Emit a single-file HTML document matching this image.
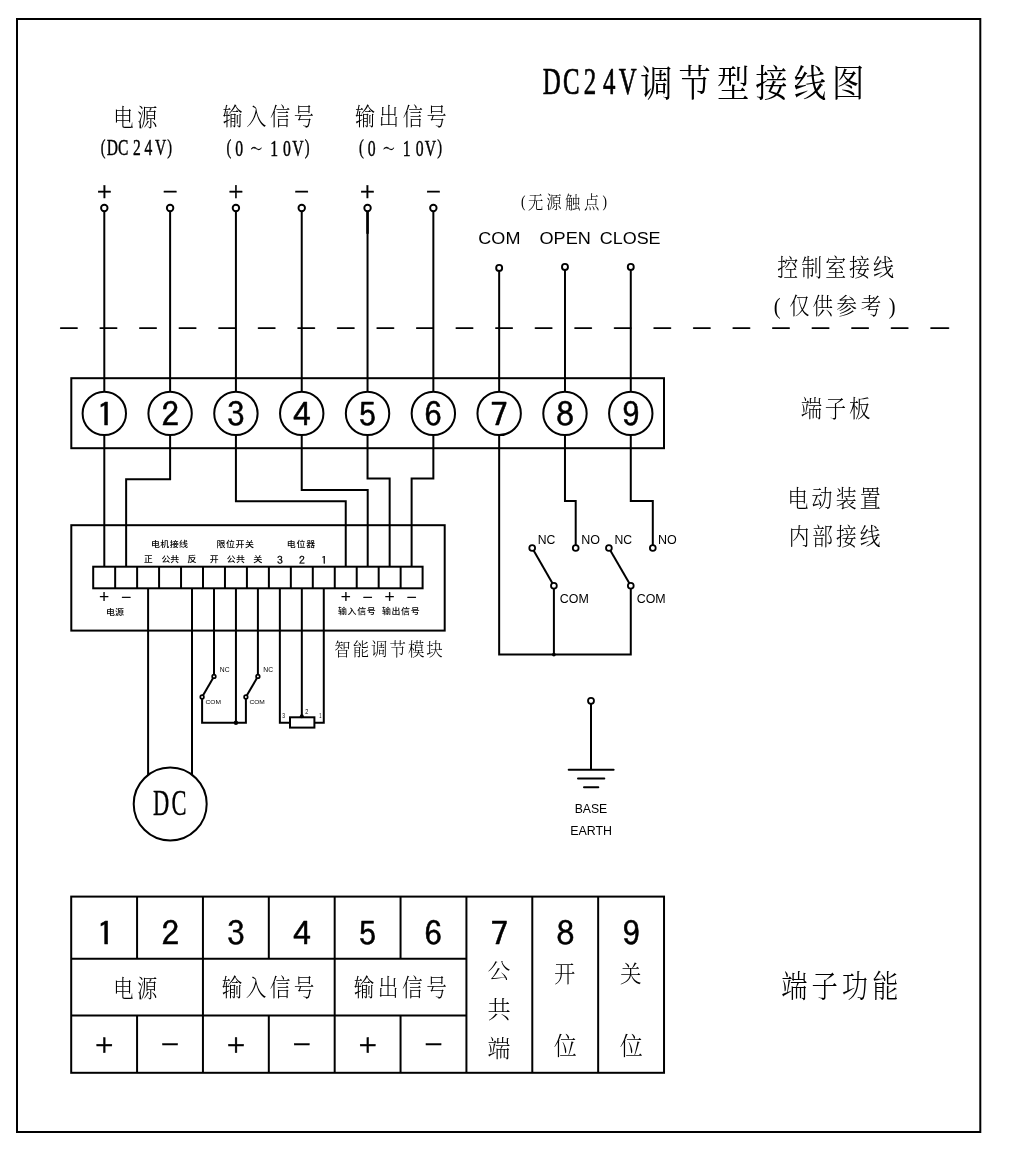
<!DOCTYPE html>
<html lang="zh-CN"><head><meta charset="utf-8"><title>DC24V调节型接线图</title>
<style>
html,body{margin:0;padding:0;background:#fff;}
body{width:1012px;height:1164px;overflow:hidden;font-family:"Liberation Sans","Noto Sans CJK SC",sans-serif;}
svg{display:block;will-change:transform;}
text{white-space:pre;fill:#000;}
.serif{font-family:"Liberation Serif","Noto Serif CJK SC",serif;}.cserif{font-family:"Liberation Serif","Noto Serif CJK SC",serif;}.sans{font-family:"Liberation Sans","Noto Sans CJK SC",sans-serif;}.csans{font-family:"Liberation Sans","Noto Sans CJK SC",sans-serif;}.goth{font-family:"IPAGothic","Noto Sans CJK JP",sans-serif;}
</style></head><body>
<svg width="1012" height="1164" viewBox="0 0 1012 1164">
<rect x="0" y="0" width="1012" height="1164" fill="#fff"/>
<rect x="17" y="19" width="963.3" height="1113" fill="none" stroke="#000" stroke-width="2"/>
<path d="M60.8 328.1 L929 328.1" fill="none" stroke="#000" stroke-width="1.9" stroke-linecap="round" stroke-linejoin="miter" stroke-dasharray="16.2 23.36"/>
<path d="M931.1 328.1 L948.4 328.1" fill="none" stroke="#000" stroke-width="1.9" stroke-linecap="round" stroke-linejoin="miter"/>
<rect x="71.3" y="378.2" width="592.7" height="70" fill="none" stroke="#000" stroke-width="2"/>
<path d="M367.54 210 L367.54 233.8" fill="none" stroke="#000" stroke-width="2.5" stroke-linecap="butt" stroke-linejoin="miter"/>
<path d="M104.3 208 L104.3 391.7" fill="none" stroke="#000" stroke-width="2" stroke-linecap="butt" stroke-linejoin="miter"/>
<circle cx="104.3" cy="208" r="3.25" fill="#fff" stroke="#000" stroke-width="1.9"/>
<path d="M170.11 208 L170.11 391.7" fill="none" stroke="#000" stroke-width="2" stroke-linecap="butt" stroke-linejoin="miter"/>
<circle cx="170.11" cy="208" r="3.25" fill="#fff" stroke="#000" stroke-width="1.9"/>
<path d="M235.92 208 L235.92 391.7" fill="none" stroke="#000" stroke-width="2" stroke-linecap="butt" stroke-linejoin="miter"/>
<circle cx="235.92" cy="208" r="3.25" fill="#fff" stroke="#000" stroke-width="1.9"/>
<path d="M301.73 208 L301.73 391.7" fill="none" stroke="#000" stroke-width="2" stroke-linecap="butt" stroke-linejoin="miter"/>
<circle cx="301.73" cy="208" r="3.25" fill="#fff" stroke="#000" stroke-width="1.9"/>
<path d="M367.54 208 L367.54 391.7" fill="none" stroke="#000" stroke-width="2" stroke-linecap="butt" stroke-linejoin="miter"/>
<circle cx="367.54" cy="208" r="3.25" fill="#fff" stroke="#000" stroke-width="1.9"/>
<path d="M433.35 208 L433.35 391.7" fill="none" stroke="#000" stroke-width="2" stroke-linecap="butt" stroke-linejoin="miter"/>
<circle cx="433.35" cy="208" r="3.25" fill="#fff" stroke="#000" stroke-width="1.9"/>
<path d="M499.16 267.9 L499.16 391.7" fill="none" stroke="#000" stroke-width="2" stroke-linecap="butt" stroke-linejoin="miter"/>
<circle cx="499.16" cy="267.9" r="3" fill="#fff" stroke="#000" stroke-width="1.9"/>
<path d="M564.97 266.9 L564.97 391.7" fill="none" stroke="#000" stroke-width="2" stroke-linecap="butt" stroke-linejoin="miter"/>
<circle cx="564.97" cy="266.9" r="3" fill="#fff" stroke="#000" stroke-width="1.9"/>
<path d="M630.78 266.9 L630.78 391.7" fill="none" stroke="#000" stroke-width="2" stroke-linecap="butt" stroke-linejoin="miter"/>
<circle cx="630.78" cy="266.9" r="3" fill="#fff" stroke="#000" stroke-width="1.9"/>
<circle cx="104.3" cy="413.4" r="21.7" fill="none" stroke="#000" stroke-width="2"/>
<circle cx="170.11" cy="413.4" r="21.7" fill="none" stroke="#000" stroke-width="2"/>
<circle cx="235.92" cy="413.4" r="21.7" fill="none" stroke="#000" stroke-width="2"/>
<circle cx="301.73" cy="413.4" r="21.7" fill="none" stroke="#000" stroke-width="2"/>
<circle cx="367.54" cy="413.4" r="21.7" fill="none" stroke="#000" stroke-width="2"/>
<circle cx="433.35" cy="413.4" r="21.7" fill="none" stroke="#000" stroke-width="2"/>
<circle cx="499.16" cy="413.4" r="21.7" fill="none" stroke="#000" stroke-width="2"/>
<circle cx="564.97" cy="413.4" r="21.7" fill="none" stroke="#000" stroke-width="2"/>
<circle cx="630.78" cy="413.4" r="21.7" fill="none" stroke="#000" stroke-width="2"/>
<rect x="71.3" y="525.2" width="373.4" height="105.4" fill="none" stroke="#000" stroke-width="2"/>
<rect x="93.2" y="566.7" width="329.4" height="21.6" fill="none" stroke="#000" stroke-width="2"/>
<path d="M115.16 566.7 L115.16 588.3" fill="none" stroke="#000" stroke-width="2" stroke-linecap="butt" stroke-linejoin="miter"/>
<path d="M137.12 566.7 L137.12 588.3" fill="none" stroke="#000" stroke-width="2" stroke-linecap="butt" stroke-linejoin="miter"/>
<path d="M159.08 566.7 L159.08 588.3" fill="none" stroke="#000" stroke-width="2" stroke-linecap="butt" stroke-linejoin="miter"/>
<path d="M181.04 566.7 L181.04 588.3" fill="none" stroke="#000" stroke-width="2" stroke-linecap="butt" stroke-linejoin="miter"/>
<path d="M203 566.7 L203 588.3" fill="none" stroke="#000" stroke-width="2" stroke-linecap="butt" stroke-linejoin="miter"/>
<path d="M224.96 566.7 L224.96 588.3" fill="none" stroke="#000" stroke-width="2" stroke-linecap="butt" stroke-linejoin="miter"/>
<path d="M246.92 566.7 L246.92 588.3" fill="none" stroke="#000" stroke-width="2" stroke-linecap="butt" stroke-linejoin="miter"/>
<path d="M268.88 566.7 L268.88 588.3" fill="none" stroke="#000" stroke-width="2" stroke-linecap="butt" stroke-linejoin="miter"/>
<path d="M290.84 566.7 L290.84 588.3" fill="none" stroke="#000" stroke-width="2" stroke-linecap="butt" stroke-linejoin="miter"/>
<path d="M312.8 566.7 L312.8 588.3" fill="none" stroke="#000" stroke-width="2" stroke-linecap="butt" stroke-linejoin="miter"/>
<path d="M334.76 566.7 L334.76 588.3" fill="none" stroke="#000" stroke-width="2" stroke-linecap="butt" stroke-linejoin="miter"/>
<path d="M356.72 566.7 L356.72 588.3" fill="none" stroke="#000" stroke-width="2" stroke-linecap="butt" stroke-linejoin="miter"/>
<path d="M378.68 566.7 L378.68 588.3" fill="none" stroke="#000" stroke-width="2" stroke-linecap="butt" stroke-linejoin="miter"/>
<path d="M400.64 566.7 L400.64 588.3" fill="none" stroke="#000" stroke-width="2" stroke-linecap="butt" stroke-linejoin="miter"/>
<path d="M104.3 435.1 L104.3 566.7" fill="none" stroke="#000" stroke-width="2" stroke-linecap="butt" stroke-linejoin="miter"/>
<path d="M170.11 435.1 L170.11 479.2 L126.14 479.2 L126.14 566.7" fill="none" stroke="#000" stroke-width="2" stroke-linecap="butt" stroke-linejoin="miter"/>
<path d="M235.92 435.1 L235.92 501.2 L345.74 501.2 L345.74 566.7" fill="none" stroke="#000" stroke-width="2" stroke-linecap="butt" stroke-linejoin="miter"/>
<path d="M301.73 435.1 L301.73 490 L367.7 490 L367.7 566.7" fill="none" stroke="#000" stroke-width="2" stroke-linecap="butt" stroke-linejoin="miter"/>
<path d="M367.54 435.1 L367.54 478.6 L389.66 478.6 L389.66 566.7" fill="none" stroke="#000" stroke-width="2" stroke-linecap="butt" stroke-linejoin="miter"/>
<path d="M433.35 435.1 L433.35 478.6 L411.62 478.6 L411.62 566.7" fill="none" stroke="#000" stroke-width="2" stroke-linecap="butt" stroke-linejoin="miter"/>
<path d="M499.16 435.1 L499.16 654.6 L630.78 654.6 L630.78 585.7" fill="none" stroke="#000" stroke-width="2" stroke-linecap="butt" stroke-linejoin="miter"/>
<path d="M553.9 585.7 L553.9 654.6" fill="none" stroke="#000" stroke-width="2" stroke-linecap="butt" stroke-linejoin="miter"/>
<circle cx="553.9" cy="654.6" r="1.9" fill="#000"/>
<path d="M564.97 435.1 L564.97 501 L575.7 501 L575.7 548" fill="none" stroke="#000" stroke-width="2" stroke-linecap="butt" stroke-linejoin="miter"/>
<path d="M630.78 435.1 L630.78 501 L652.8 501 L652.8 548" fill="none" stroke="#000" stroke-width="2" stroke-linecap="butt" stroke-linejoin="miter"/>
<path d="M532.2 548 L553.9 585.7" fill="none" stroke="#000" stroke-width="2" stroke-linecap="butt" stroke-linejoin="miter"/>
<circle cx="532.2" cy="548" r="2.9" fill="#fff" stroke="#000" stroke-width="1.8"/>
<circle cx="553.9" cy="585.7" r="2.9" fill="#fff" stroke="#000" stroke-width="1.8"/>
<path d="M608.9 548 L630.78 585.7" fill="none" stroke="#000" stroke-width="2" stroke-linecap="butt" stroke-linejoin="miter"/>
<circle cx="608.9" cy="548" r="2.9" fill="#fff" stroke="#000" stroke-width="1.8"/>
<circle cx="630.78" cy="585.7" r="2.9" fill="#fff" stroke="#000" stroke-width="1.8"/>
<circle cx="575.7" cy="548" r="2.9" fill="#fff" stroke="#000" stroke-width="1.8"/>
<circle cx="652.8" cy="548" r="2.9" fill="#fff" stroke="#000" stroke-width="1.8"/>
<path d="M148.1 588.3 L148.1 774.95" fill="none" stroke="#000" stroke-width="2" stroke-linecap="butt" stroke-linejoin="miter"/>
<path d="M192.02 588.3 L192.02 774.74" fill="none" stroke="#000" stroke-width="2" stroke-linecap="butt" stroke-linejoin="miter"/>
<circle cx="170.2" cy="804" r="36.5" fill="none" stroke="#000" stroke-width="2"/>
<path d="M213.98 588.3 L213.98 676.4" fill="none" stroke="#000" stroke-width="2" stroke-linecap="butt" stroke-linejoin="miter"/>
<path d="M257.9 588.3 L257.9 676.4" fill="none" stroke="#000" stroke-width="2" stroke-linecap="butt" stroke-linejoin="miter"/>
<path d="M235.94 588.3 L235.94 722.8" fill="none" stroke="#000" stroke-width="2" stroke-linecap="butt" stroke-linejoin="miter"/>
<path d="M202.1 697 L202.1 722.8 L245.9 722.8 L245.9 697" fill="none" stroke="#000" stroke-width="2" stroke-linecap="butt" stroke-linejoin="miter"/>
<circle cx="235.94" cy="722.8" r="2.2" fill="#000"/>
<path d="M213.98 676.4 L202.1 697" fill="none" stroke="#000" stroke-width="2" stroke-linecap="butt" stroke-linejoin="miter"/>
<circle cx="213.98" cy="676.4" r="1.8" fill="#fff" stroke="#000" stroke-width="1.7"/>
<circle cx="202.1" cy="697" r="1.8" fill="#fff" stroke="#000" stroke-width="1.7"/>
<path d="M257.9 676.4 L245.9 697" fill="none" stroke="#000" stroke-width="2" stroke-linecap="butt" stroke-linejoin="miter"/>
<circle cx="257.9" cy="676.4" r="1.8" fill="#fff" stroke="#000" stroke-width="1.7"/>
<circle cx="245.9" cy="697" r="1.8" fill="#fff" stroke="#000" stroke-width="1.7"/>
<path d="M279.86 588.3 L279.86 722.8 L290 722.8" fill="none" stroke="#000" stroke-width="2" stroke-linecap="butt" stroke-linejoin="miter"/>
<path d="M323.78 588.3 L323.78 722.8 L314.4 722.8" fill="none" stroke="#000" stroke-width="2" stroke-linecap="butt" stroke-linejoin="miter"/>
<path d="M301.82 588.3 L301.82 717.3" fill="none" stroke="#000" stroke-width="2" stroke-linecap="butt" stroke-linejoin="miter"/>
<rect x="290" y="717.3" width="24.4" height="10.3" fill="none" stroke="#000" stroke-width="2"/>
<circle cx="301.82" cy="716.3" r="2" fill="#000"/>
<circle cx="591" cy="700.8" r="3" fill="#fff" stroke="#000" stroke-width="1.8"/>
<path d="M591 703.8 L591 769.7" fill="none" stroke="#000" stroke-width="2" stroke-linecap="butt" stroke-linejoin="miter"/>
<path d="M568.7 769.7 L613.6 769.7" fill="none" stroke="#000" stroke-width="2" stroke-linecap="round" stroke-linejoin="miter"/>
<path d="M578 778.6 L604.3 778.6" fill="none" stroke="#000" stroke-width="2" stroke-linecap="round" stroke-linejoin="miter"/>
<path d="M584 787.2 L598.3 787.2" fill="none" stroke="#000" stroke-width="2" stroke-linecap="round" stroke-linejoin="miter"/>
<rect x="71.2" y="896.6" width="592.83" height="176.2" fill="none" stroke="#000" stroke-width="2"/>
<path d="M71.2 958.7 L466.42 958.7" fill="none" stroke="#000" stroke-width="2" stroke-linecap="butt" stroke-linejoin="miter"/>
<path d="M71.2 1015.6 L466.42 1015.6" fill="none" stroke="#000" stroke-width="2" stroke-linecap="butt" stroke-linejoin="miter"/>
<path d="M202.94 896.6 L202.94 1072.8" fill="none" stroke="#000" stroke-width="2" stroke-linecap="butt" stroke-linejoin="miter"/>
<path d="M334.68 896.6 L334.68 1072.8" fill="none" stroke="#000" stroke-width="2" stroke-linecap="butt" stroke-linejoin="miter"/>
<path d="M466.42 896.6 L466.42 1072.8" fill="none" stroke="#000" stroke-width="2" stroke-linecap="butt" stroke-linejoin="miter"/>
<path d="M532.29 896.6 L532.29 1072.8" fill="none" stroke="#000" stroke-width="2" stroke-linecap="butt" stroke-linejoin="miter"/>
<path d="M598.16 896.6 L598.16 1072.8" fill="none" stroke="#000" stroke-width="2" stroke-linecap="butt" stroke-linejoin="miter"/>
<path d="M137.07 896.6 L137.07 958.7" fill="none" stroke="#000" stroke-width="2" stroke-linecap="butt" stroke-linejoin="miter"/>
<path d="M137.07 1015.6 L137.07 1072.8" fill="none" stroke="#000" stroke-width="2" stroke-linecap="butt" stroke-linejoin="miter"/>
<path d="M268.81 896.6 L268.81 958.7" fill="none" stroke="#000" stroke-width="2" stroke-linecap="butt" stroke-linejoin="miter"/>
<path d="M268.81 1015.6 L268.81 1072.8" fill="none" stroke="#000" stroke-width="2" stroke-linecap="butt" stroke-linejoin="miter"/>
<path d="M400.55 896.6 L400.55 958.7" fill="none" stroke="#000" stroke-width="2" stroke-linecap="butt" stroke-linejoin="miter"/>
<path d="M400.55 1015.6 L400.55 1072.8" fill="none" stroke="#000" stroke-width="2" stroke-linecap="butt" stroke-linejoin="miter"/>
<text transform="scale(0.6600 1)" x="822.37 852.95 884.52 913.46 937.68" y="93.91" class="serif" font-size="37.66" stroke="#000" stroke-width="0.6" vector-effect="non-scaling-stroke" stroke-linejoin="round">DC24V</text>
<text transform="scale(0.8700 1)" x="735.86 779.97 824.08 868.2 912.31 956.43" y="96.94" class="cserif" font-size="37.16">调节型接线图</text>
<text transform="scale(0.8600 1)" x="131.8 159.24" y="125.64" class="cserif" font-size="23.76" font-weight="300">电源</text>
<text transform="scale(0.6600 1)" x="152.8 161.58 178.8 201.58 218.97 235.03 253.27" y="153.8 155.43 155.43 155.43 155.43 155.43 153.8" class="serif" font-size="23.52" stroke="#000" stroke-width="0.4" vector-effect="non-scaling-stroke" stroke-linejoin="round"><tspan font-size="21.63">(</tspan>DC24V<tspan font-size="21.63">)</tspan></text>
<text transform="scale(0.8600 1)" x="258.7 286.35 314 341.65" y="125.4" class="cserif" font-size="23.5" font-weight="300">输入信号</text>
<text transform="scale(0.6600 1)" x="343.05 356.47 379.52 409.43 428.89 442.65 461.71" y="154 155.73 155.1 155.73 155.73 155.73 154" class="serif" font-size="23.81" stroke="#000" stroke-width="0.4" vector-effect="non-scaling-stroke" stroke-linejoin="round"><tspan font-size="21.91">(</tspan>0<tspan font-size="17.62">～</tspan>10V<tspan font-size="21.91">)</tspan></text>
<text transform="scale(0.8600 1)" x="412.89 440.54 468.19 495.84" y="125.4" class="cserif" font-size="23.5" font-weight="300">输出信号</text>
<text transform="scale(0.6600 1)" x="543.96 557.38 580.43 610.34 629.8 643.56 662.62" y="154 155.73 155.1 155.73 155.73 155.73 154" class="serif" font-size="23.81" stroke="#000" stroke-width="0.4" vector-effect="non-scaling-stroke" stroke-linejoin="round"><tspan font-size="21.91">(</tspan>0<tspan font-size="17.62">～</tspan>10V<tspan font-size="21.91">)</tspan></text>
<text transform="translate(95.63 198.06) scale(1.0265 1)" class="csans" font-size="16.89" font-weight="500" stroke="#000" stroke-width="0.35" vector-effect="non-scaling-stroke" stroke-linejoin="round">＋</text>
<text transform="translate(161.44 197.5) scale(1.0505 1)" class="csans" font-size="16.5" font-weight="500" stroke="#000" stroke-width="0.35" vector-effect="non-scaling-stroke" stroke-linejoin="round">－</text>
<text transform="translate(227.25 198.06) scale(1.0265 1)" class="csans" font-size="16.89" font-weight="500" stroke="#000" stroke-width="0.35" vector-effect="non-scaling-stroke" stroke-linejoin="round">＋</text>
<text transform="translate(293.06 197.5) scale(1.0505 1)" class="csans" font-size="16.5" font-weight="500" stroke="#000" stroke-width="0.35" vector-effect="non-scaling-stroke" stroke-linejoin="round">－</text>
<text transform="translate(358.87 198.06) scale(1.0265 1)" class="csans" font-size="16.89" font-weight="500" stroke="#000" stroke-width="0.35" vector-effect="non-scaling-stroke" stroke-linejoin="round">＋</text>
<text transform="translate(424.68 197.5) scale(1.0505 1)" class="csans" font-size="16.5" font-weight="500" stroke="#000" stroke-width="0.35" vector-effect="non-scaling-stroke" stroke-linejoin="round">－</text>
<text transform="scale(0.8600 1)" x="605.79 613.98 635.3 656.91 679.02 700.68" y="206.6 208.77 208.77 208.77 208.77 206.6" class="serif" font-size="17.86" font-weight="300"><tspan font-size="15.72">(</tspan>无源触点<tspan font-size="15.72">)</tspan></text>
<text transform="translate(478.35 243.9) scale(1.0390 1)" class="sans" font-size="17.35">COM</text>
<text transform="translate(539.55 243.9) scale(1.0438 1)" class="sans" font-size="17.35">OPEN</text>
<text transform="translate(599.76 243.9) scale(1.0353 1)" class="sans" font-size="17.35">CLOSE</text>
<text transform="scale(0.8800 1)" x="883.38 910.54 937.69 964.85 992.01" y="276" class="cserif" font-size="23.82" font-weight="300">控制室接线</text>
<text transform="scale(0.8800 1)" x="879.3 896.8 923.25 950.71 978.16 1009.83" y="314.4" class="serif" font-size="23.23" font-weight="300">(仅供参考)</text>
<text transform="scale(0.8800 1)" x="909.92 937.34 964.76" y="417.5" class="cserif" font-size="24.3" font-weight="300">端子板</text>
<text transform="scale(0.8800 1)" x="894.85 922.23 949.6 976.97" y="506.86" class="cserif" font-size="23.89" font-weight="300">电动装置</text>
<text transform="scale(0.8800 1)" x="896.18 923.11 950.05 976.98" y="545.23" class="cserif" font-size="23.5" font-weight="300">内部接线</text>
<text transform="scale(0.8800 1)" x="379.81 400.74 421.67 442.6 463.53 484.47" y="656.04" class="cserif" font-size="18.67" font-weight="300">智能调节模块</text>
<text transform="scale(0.8500 1)" x="919.15 954.78 990.41 1026.05" y="997.38" class="cserif" font-size="30.93" font-weight="300">端子功能</text>
<text transform="translate(96.84 426.86) scale(1.0600 1)" class="goth" font-size="33.36" stroke="#000" stroke-width="0.5" vector-effect="non-scaling-stroke" stroke-linejoin="round">1</text>
<text transform="translate(96.68 946.08) scale(1.0600 1)" class="goth" font-size="33.63" stroke="#000" stroke-width="0.5" vector-effect="non-scaling-stroke" stroke-linejoin="round">1</text>
<text transform="translate(161.55 426.86) scale(1.0600 1)" class="goth" font-size="33.36" stroke="#000" stroke-width="0.5" vector-effect="non-scaling-stroke" stroke-linejoin="round">2</text>
<text transform="translate(161.44 946.08) scale(1.0600 1)" class="goth" font-size="33.63" stroke="#000" stroke-width="0.5" vector-effect="non-scaling-stroke" stroke-linejoin="round">2</text>
<text transform="translate(227.08 426.86) scale(1.0600 1)" class="goth" font-size="33.36" stroke="#000" stroke-width="0.5" vector-effect="non-scaling-stroke" stroke-linejoin="round">3</text>
<text transform="translate(227.03 946.08) scale(1.0600 1)" class="goth" font-size="33.63" stroke="#000" stroke-width="0.5" vector-effect="non-scaling-stroke" stroke-linejoin="round">3</text>
<text transform="translate(292.89 426.86) scale(1.0600 1)" class="goth" font-size="33.36" stroke="#000" stroke-width="0.5" vector-effect="non-scaling-stroke" stroke-linejoin="round">4</text>
<text transform="translate(292.9 946.08) scale(1.0600 1)" class="goth" font-size="33.63" stroke="#000" stroke-width="0.5" vector-effect="non-scaling-stroke" stroke-linejoin="round">4</text>
<text transform="translate(358.42 426.86) scale(1.0600 1)" class="goth" font-size="33.36" stroke="#000" stroke-width="0.5" vector-effect="non-scaling-stroke" stroke-linejoin="round">5</text>
<text transform="translate(358.49 946.08) scale(1.0600 1)" class="goth" font-size="33.63" stroke="#000" stroke-width="0.5" vector-effect="non-scaling-stroke" stroke-linejoin="round">5</text>
<text transform="translate(424.23 426.86) scale(1.0600 1)" class="goth" font-size="33.36" stroke="#000" stroke-width="0.5" vector-effect="non-scaling-stroke" stroke-linejoin="round">6</text>
<text transform="translate(424.36 946.08) scale(1.0600 1)" class="goth" font-size="33.63" stroke="#000" stroke-width="0.5" vector-effect="non-scaling-stroke" stroke-linejoin="round">6</text>
<text transform="translate(490.32 426.86) scale(1.0600 1)" class="goth" font-size="33.36" stroke="#000" stroke-width="0.5" vector-effect="non-scaling-stroke" stroke-linejoin="round">7</text>
<text transform="translate(490.51 946.08) scale(1.0600 1)" class="goth" font-size="33.63" stroke="#000" stroke-width="0.5" vector-effect="non-scaling-stroke" stroke-linejoin="round">7</text>
<text transform="translate(556.13 426.86) scale(1.0600 1)" class="goth" font-size="33.36" stroke="#000" stroke-width="0.5" vector-effect="non-scaling-stroke" stroke-linejoin="round">8</text>
<text transform="translate(556.38 946.08) scale(1.0600 1)" class="goth" font-size="33.63" stroke="#000" stroke-width="0.5" vector-effect="non-scaling-stroke" stroke-linejoin="round">8</text>
<text transform="translate(621.94 426.86) scale(1.0600 1)" class="goth" font-size="33.36" stroke="#000" stroke-width="0.5" vector-effect="non-scaling-stroke" stroke-linejoin="round">9</text>
<text transform="translate(622.25 946.08) scale(1.0600 1)" class="goth" font-size="33.63" stroke="#000" stroke-width="0.5" vector-effect="non-scaling-stroke" stroke-linejoin="round">9</text>
<text transform="scale(0.6400 1)" x="239.21 267.85" y="815.25" class="serif" font-size="35.13" stroke="#000" stroke-width="0.3" vector-effect="non-scaling-stroke" stroke-linejoin="round">DC</text>
<text transform="scale(1.0800 1)" x="139.74 148.44 157.15 165.85" y="546.6" class="csans" font-size="8.3" font-weight="500">电机接线</text>
<text transform="scale(1.0800 1)" x="200.46 209.23 218 226.77" y="546.6" class="csans" font-size="8.3" font-weight="500">限位开关</text>
<text transform="scale(1.0800 1)" x="265.48 274.49 283.5" y="546.6" class="csans" font-size="8.3" font-weight="500">电位器</text>
<text transform="translate(143.89 562.2) scale(1.0455 1)" class="csans" font-size="8.3" font-weight="500">正</text>
<text transform="scale(1.0800 1)" x="149.46 157.61" y="562.2" class="csans" font-size="8.3" font-weight="500">公共</text>
<text transform="translate(187.36 562.2) scale(1.1433 1)" class="csans" font-size="8.3" font-weight="500">反</text>
<text transform="translate(209.69 562.2) scale(1.0636 1)" class="csans" font-size="8.3" font-weight="500">开</text>
<text transform="scale(1.0800 1)" x="209.93 218.53" y="562.2" class="csans" font-size="8.3" font-weight="500">公共</text>
<text transform="translate(253.31 562.2) scale(1.1052 1)" class="csans" font-size="8.3" font-weight="500">关</text>
<text transform="translate(276.94 563.9) scale(1.1000 1)" class="goth" font-size="10.62" stroke="#000" stroke-width="0.3" vector-effect="non-scaling-stroke" stroke-linejoin="round">3</text>
<text transform="translate(298.99 563.9) scale(1.1000 1)" class="goth" font-size="10.62" stroke="#000" stroke-width="0.3" vector-effect="non-scaling-stroke" stroke-linejoin="round">2</text>
<text transform="translate(321.32 563.9) scale(1.1000 1)" class="goth" font-size="10.62" stroke="#000" stroke-width="0.3" vector-effect="non-scaling-stroke" stroke-linejoin="round">1</text>
<text transform="translate(98.58 601.37) scale(1.0030 1)" class="csans" font-size="11.17" font-weight="500" stroke="#000" stroke-width="0.4" vector-effect="non-scaling-stroke" stroke-linejoin="round">＋</text>
<text transform="translate(120.41 600.9) scale(1.0617 1)" class="csans" font-size="10.8" font-weight="500" stroke="#000" stroke-width="0.4" vector-effect="non-scaling-stroke" stroke-linejoin="round">－</text>
<text transform="translate(340.14 601.37) scale(1.0030 1)" class="csans" font-size="11.17" font-weight="500" stroke="#000" stroke-width="0.4" vector-effect="non-scaling-stroke" stroke-linejoin="round">＋</text>
<text transform="translate(361.97 600.9) scale(1.0617 1)" class="csans" font-size="10.8" font-weight="500" stroke="#000" stroke-width="0.4" vector-effect="non-scaling-stroke" stroke-linejoin="round">－</text>
<text transform="translate(384.06 601.37) scale(1.0030 1)" class="csans" font-size="11.17" font-weight="500" stroke="#000" stroke-width="0.4" vector-effect="non-scaling-stroke" stroke-linejoin="round">＋</text>
<text transform="translate(405.89 600.9) scale(1.0617 1)" class="csans" font-size="10.8" font-weight="500" stroke="#000" stroke-width="0.4" vector-effect="non-scaling-stroke" stroke-linejoin="round">－</text>
<text transform="scale(1.0800 1)" x="98.07 106.46" y="614.8" class="csans" font-size="8.3" font-weight="500">电源</text>
<text transform="scale(1.0800 1)" x="312.98 321.86 330.74 339.63" y="614.5" class="csans" font-size="8.3" font-weight="500">输入信号</text>
<text transform="scale(1.0800 1)" x="353.63 362.51 371.39 380.27" y="614.5" class="csans" font-size="8.3" font-weight="500">输出信号</text>
<text transform="translate(219.77 672.1) scale(1.0121 1)" class="sans" font-size="6.68">NC</text>
<text transform="translate(263.37 672.1) scale(1.0121 1)" class="sans" font-size="6.68">NC</text>
<text transform="translate(205.49 703.71) scale(1.1074 1)" class="sans" font-size="5.98">COM</text>
<text transform="translate(249.39 703.71) scale(1.1074 1)" class="sans" font-size="5.98">COM</text>
<text transform="translate(282.25 718) scale(0.7742 1)" class="sans" font-size="6.4">3</text>
<text transform="translate(305.34 714.3) scale(0.8667 1)" class="sans" font-size="6.4">2</text>
<text transform="translate(319.15 718) scale(0.6207 1)" class="sans" font-size="6.4">1</text>
<text transform="translate(537.74 543.71) scale(1.0113 1)" class="sans" font-size="12.1">NC</text>
<text transform="translate(581.22 543.71) scale(1.0369 1)" class="sans" font-size="12.1">NO</text>
<text transform="translate(614.44 543.71) scale(1.0113 1)" class="sans" font-size="12.1">NC</text>
<text transform="translate(657.92 543.71) scale(1.0369 1)" class="sans" font-size="12.1">NO</text>
<text transform="translate(559.82 602.81) scale(1.0277 1)" class="sans" font-size="12.1">COM</text>
<text transform="translate(636.72 602.81) scale(1.0277 1)" class="sans" font-size="12.1">COM</text>
<text transform="translate(574.64 812.51) scale(1.0117 1)" class="sans" font-size="12.1">BASE</text>
<text transform="translate(570.13 834.8) scale(1.0158 1)" class="sans" font-size="12.23">EARTH</text>
<text transform="scale(0.8600 1)" x="131.58 159.36" y="996.75" class="cserif" font-size="23.65" font-weight="300">电源</text>
<text transform="scale(0.8800 1)" x="252.13 279.36 306.59 333.82" y="996" class="cserif" font-size="23.5" font-weight="300">输入信号</text>
<text transform="scale(0.8800 1)" x="401.91 429.36 456.82 484.28" y="996" class="cserif" font-size="23.5" font-weight="300">输出信号</text>
<text transform="translate(93.67 1052.72) scale(1.0314 1)" class="csans" font-size="20.43" font-weight="500" stroke="#000" stroke-width="0.4" vector-effect="non-scaling-stroke" stroke-linejoin="round">＋</text>
<text transform="translate(159.54 1052) scale(1.0533 1)" class="csans" font-size="20" font-weight="500" stroke="#000" stroke-width="0.4" vector-effect="non-scaling-stroke" stroke-linejoin="round">－</text>
<text transform="translate(225.41 1052.72) scale(1.0314 1)" class="csans" font-size="20.43" font-weight="500" stroke="#000" stroke-width="0.4" vector-effect="non-scaling-stroke" stroke-linejoin="round">＋</text>
<text transform="translate(291.28 1052) scale(1.0533 1)" class="csans" font-size="20" font-weight="500" stroke="#000" stroke-width="0.4" vector-effect="non-scaling-stroke" stroke-linejoin="round">－</text>
<text transform="translate(357.15 1052.72) scale(1.0314 1)" class="csans" font-size="20.43" font-weight="500" stroke="#000" stroke-width="0.4" vector-effect="non-scaling-stroke" stroke-linejoin="round">＋</text>
<text transform="translate(423.02 1052) scale(1.0533 1)" class="csans" font-size="20" font-weight="500" stroke="#000" stroke-width="0.4" vector-effect="non-scaling-stroke" stroke-linejoin="round">－</text>
<text transform="translate(487.49 978.15) scale(1.0792 1)" class="cserif" font-size="21.19" font-weight="300">公</text>
<text transform="translate(487.47 1018.43) scale(0.9894 1)" class="cserif" font-size="23.5" font-weight="300">共</text>
<text transform="translate(487.49 1057.09) scale(0.9371 1)" class="cserif" font-size="24.41" font-weight="300">端</text>
<text transform="translate(554.34 981.79) scale(0.9072 1)" class="cserif" font-size="23.13" font-weight="300">开</text>
<text transform="translate(553.64 1054.78) scale(0.9374 1)" class="cserif" font-size="24.62" font-weight="300">位</text>
<text transform="translate(620.03 982.22) scale(0.9459 1)" class="cserif" font-size="22.78" font-weight="300">关</text>
<text transform="translate(619.64 1054.78) scale(0.9374 1)" class="cserif" font-size="24.62" font-weight="300">位</text>
</svg>
</body></html>
